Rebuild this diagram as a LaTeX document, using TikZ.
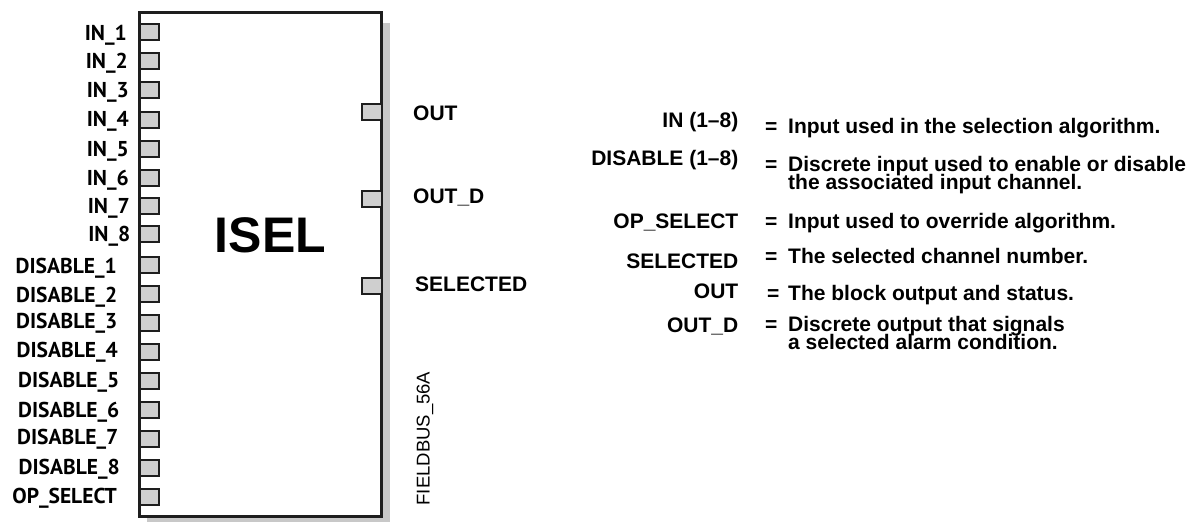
\documentclass[tikz,border=0pt]{standalone}
\usepackage{fontspec}
\setmainfont{Liberation Sans}
\newfontfamily\myr{PT Sans}
\newcommand\tightlines{\lineskiplimit=-50pt\relax}
\definecolor{portgray}{HTML}{CFCFCF}
\definecolor{shadowgray}{HTML}{C8C8C8}
\definecolor{ink}{HTML}{1E1E1E}
\tikzset{
  port/.style={draw=ink, line width=2pt, fill=portgray, minimum width=19.5pt, minimum height=16pt, inner sep=0pt, outer sep=0pt},
  lbl/.style={font=\fontsize{21.5}{21.5}\selectfont\myr\bfseries, inner sep=0pt, anchor=base east},
  olbl/.style={font=\fontsize{21}{21}\selectfont\bfseries, inner sep=0pt, anchor=base west},
  key/.style={font=\fontsize{21}{21}\selectfont\bfseries, inner sep=0pt, anchor=base east},
  eq/.style={font=\fontsize{21}{21}\selectfont\bfseries, inner sep=0pt, anchor=base west},
  desc/.style={font={\fontsize{21}{17.5}\selectfont\bfseries\tightlines}, align=left, inner sep=0pt, anchor=base west},
}
\begin{document}
\begin{tikzpicture}[x=1pt,y=-1pt]
\useasboundingbox (0,0) rectangle (1194,523);
% shadow and block
\fill[shadowgray] (147,23) rectangle (389.5,521.5);
\node[draw=ink, fill=white, line width=2.5pt, minimum width=242pt, minimum height=504pt, inner sep=0pt, outer sep=0pt, anchor=north west] (blk) at (139.5,12.5) {};
\node[font=\fontsize{50}{50}\selectfont\bfseries, inner sep=0pt, anchor=base] (title) at (270.5,252) {ISEL};
% left ports
\foreach \n/\y in {in1/31.7, in2/61, in3/89.5, in4/119.5, in5/149, in6/177.5, in7/206, in8/234,
                   d1/265, d2/293.5, d3/323, d4/352, d5/381, d6/409.5, d7/439, d8/468, op/497}
  \node[port, anchor=west] (p\n) at (139.5,\y) {};
% right ports
\foreach \n/\y in {out/111.5, outd/199, sel/286}
  \node[port, anchor=east] (p\n) at (381.5,\y) {};
% left labels
\node[lbl] (lin1) at (127,40) {IN\_1};
\node[lbl] (lin2) at (128,68.5) {IN\_2};
\node[lbl] (lin3) at (129,97) {IN\_3};
\node[lbl] (lin4) at (129,126.5) {IN\_4};
\node[lbl] (lin5) at (129,156.5) {IN\_5};
\node[lbl] (lin6) at (129,185) {IN\_6};
\node[lbl] (lin7) at (130,213) {IN\_7};
\node[lbl] (lin8) at (130.5,241.5) {IN\_8};
\node[lbl] (ld1) at (117,273.5) {DISABLE\_1};
\node[lbl] (ld2) at (117.5,302.5) {DISABLE\_2};
\node[lbl] (ld3) at (117.5,328.5) {DISABLE\_3};
\node[lbl] (ld4) at (118,357.5) {DISABLE\_4};
\node[lbl] (ld5) at (119.5,387.5) {DISABLE\_5};
\node[lbl] (ld6) at (119.5,417.5) {DISABLE\_6};
\node[lbl] (ld7) at (118.5,444.5) {DISABLE\_7};
\node[lbl] (ld8) at (120,474.5) {DISABLE\_8};
\node[lbl] (lop) at (117,503) {OP\_SELECT};
% right labels
\node[olbl] (lout) at (413,120) {OUT};
\node[olbl] (loutd) at (413,203) {OUT\_D};
\node[olbl] (lsel) at (415,291.5) {SELECTED};
% id
\node[font=\fontsize{18.5}{18.5}\selectfont, inner sep=0pt, rotate=90] (fid) at (425,438.5) {FIELDBUS\_56A};
% legend
\node[key] (k1) at (738.5,127) {IN (1--8)};
\node[eq] (e1) at (765,133) {=};
\node[desc] (t1) at (788,133) {Input used in the selection algorithm.};
\node[key] (k2) at (738.5,165) {DISABLE (1--8)};
\node[eq] (e2) at (765,171.5) {=};
\node[desc] (t2) at (788,189) {Discrete input used to enable or disable\\the associated input channel.};
\node[key] (k3) at (738.5,228) {OP\_SELECT};
\node[eq] (e3) at (765,228) {=};
\node[desc] (t3) at (788,228) {Input used to override algorithm.};
\node[key] (k4) at (738.5,268) {SELECTED};
\node[eq] (e4) at (765,263) {=};
\node[desc] (t4) at (788,263) {The selected channel number.};
\node[key] (k5) at (738.5,298) {OUT};
\node[eq] (e5) at (767,300) {=};
\node[desc] (t5) at (788,300) {The block output and status.};
\node[key] (k6) at (738.5,332) {OUT\_D};
\node[eq] (e6) at (765,331.5) {=};
\node[desc] (t6) at (788,349) {Discrete output that signals\\a selected alarm condition.};
\end{tikzpicture}
\end{document}
